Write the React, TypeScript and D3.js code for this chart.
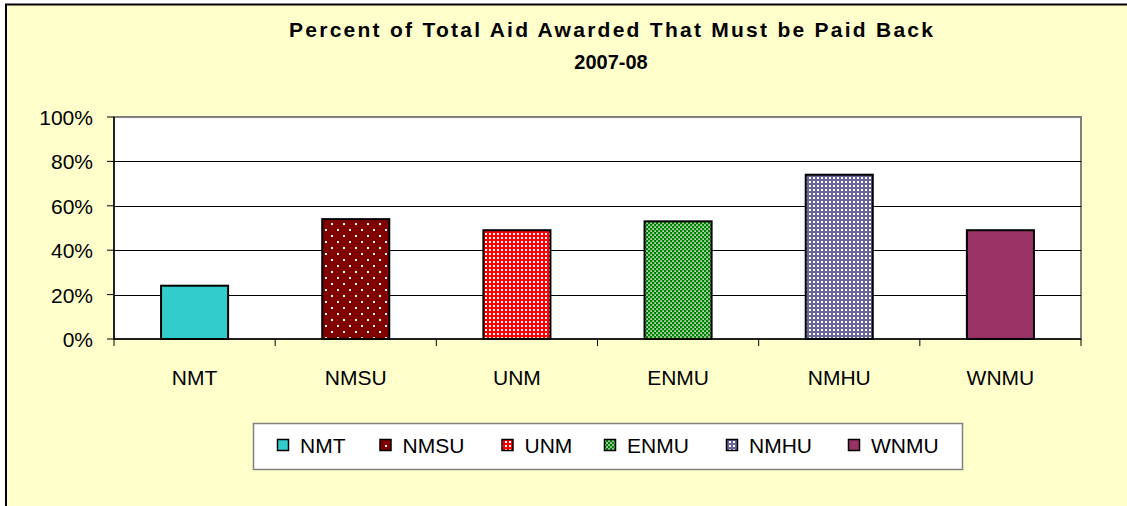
import React from 'react'
import * as d3 from 'd3'

const schools = ['NMT', 'NMSU', 'UNM', 'ENMU', 'NMHU', 'WNMU']
const percentRepaid = [24, 54, 49, 53, 74, 49]
const yTicks = [0, 20, 40, 60, 80, 100]
const fills = ['#33CCCC', 'url(#pNMSU)', 'url(#pUNM)', 'url(#pENMU)', 'url(#pNMHU)', '#993366']

const W = 1127
const H = 506
const FONT = 'Liberation Sans, Arial, sans-serif'
const plot = { left: 114, right: 1081, top: 117, bottom: 339 }

export default function App () {
  const x = d3.scaleBand<string>()
    .domain(schools)
    .range([plot.left, plot.right])
    .paddingInner(0.584)
    .paddingOuter(0.292)
  const y = d3.scaleLinear().domain([0, 100]).range([plot.bottom, plot.top])
  const step = x.step()

  // legend items laid out one after another
  let cursor = 277
  const legendItems = schools.map((s, i) => {
    const item = { s, i, x: cursor }
    cursor += 44 + 19.5 * s.length
    return item
  })

  return (
    <svg width={W} height={H} viewBox={`0 0 ${W} ${H}`}
      style={{ position: 'absolute', left: 0, top: 0, display: 'block' }}>
      <defs>
        <pattern id="pNMSU" width="12" height="12" patternUnits="userSpaceOnUse">
          <rect width="12" height="12" fill="#800000" />
          <rect x="1" y="1" width="2" height="2" fill="#fff" />
          <rect x="7" y="7" width="2" height="2" fill="#fff" />
        </pattern>
        <pattern id="pUNM" width="4" height="4" patternUnits="userSpaceOnUse">
          <rect width="4" height="4" fill="#FF0000" />
          <rect x="1" y="1" width="2" height="2" fill="#fff" />
        </pattern>
        <pattern id="pENMU" width="4" height="4" patternUnits="userSpaceOnUse">
          <rect width="4" height="4" fill="#008000" />
          <rect x="0.3" y="0.3" width="1.5" height="1.5" fill="#fff" />
          <rect x="2.3" y="2.3" width="1.5" height="1.5" fill="#fff" />
        </pattern>
        <pattern id="pNMHU" width="4" height="4" patternUnits="userSpaceOnUse">
          <rect width="4" height="4" fill="#666699" />
          <rect x="1" y="1" width="2" height="2" fill="#fff" />
        </pattern>
      </defs>

      <rect x={0} y={0} width={W} height={H} fill="#fff" />
      <rect x={6} y={4.5} width={W + 20} height={H + 20} fill="#FFFFCC" stroke="#000" strokeWidth={2} />

      <text x={611} y={37} textAnchor="middle" fontFamily={FONT} fontWeight="bold" fontSize={21}
        textLength={644} lengthAdjust="spacing">
        Percent of Total Aid Awarded That Must be Paid Back
      </text>
      <text x={611} y={69} textAnchor="middle" fontFamily={FONT} fontWeight="bold" fontSize={20}>
        2007-08
      </text>

      <rect x={plot.left} y={plot.top} width={plot.right - plot.left} height={plot.bottom - plot.top}
        fill="#fff" stroke="#808080" strokeWidth={2} />

      {yTicks.slice(1, -1).map(t => (
        <line key={t} x1={plot.left} x2={plot.right} y1={Math.round(y(t)) + 0.5} y2={Math.round(y(t)) + 0.5}
          stroke="#000" strokeWidth={1} />
      ))}

      {schools.map((s, i) => {
        const top = y(percentRepaid[i])
        return (
          <rect key={s} x={x(s)} y={top} width={x.bandwidth()} height={plot.bottom - top}
            fill={fills[i]} stroke="#000" strokeWidth={2} />
        )
      })}

      <line x1={plot.left} x2={plot.left} y1={plot.top} y2={plot.bottom} stroke="#000" strokeWidth={1.5} />
      <line x1={plot.left} x2={plot.right} y1={plot.bottom} y2={plot.bottom} stroke="#000" strokeWidth={1.5} />

      {yTicks.map(t => (
        <g key={t}>
          <line x1={plot.left - 7} x2={plot.left} y1={y(t)} y2={y(t)} stroke="#000" strokeWidth={1} />
          <text x={93} y={y(t) + 8} textAnchor="end" fontFamily={FONT} fontSize={21}>{t}%</text>
        </g>
      ))}

      {d3.range(schools.length + 1).map(i => (
        <line key={i} x1={plot.left + i * step} x2={plot.left + i * step} y1={plot.bottom} y2={plot.bottom + 7}
          stroke="#000" strokeWidth={1} />
      ))}
      {schools.map(s => (
        <text key={s} x={x(s)! + x.bandwidth() / 2} y={385} textAnchor="middle" fontFamily={FONT} fontSize={21}>
          {s}
        </text>
      ))}

      <rect x={253.5} y={423.5} width={709} height={46} fill="#fff" stroke="#808080" strokeWidth={1.5} />
      {legendItems.map(d => (
        <g key={d.s}>
          <rect x={d.x + 0.5} y={439.5} width={11} height={11} fill={fills[d.i]} stroke="#000" strokeWidth={1.5} />
          <text x={d.x + 23} y={453} fontFamily={FONT} fontSize={21}>{d.s}</text>
        </g>
      ))}
    </svg>
  )
}
